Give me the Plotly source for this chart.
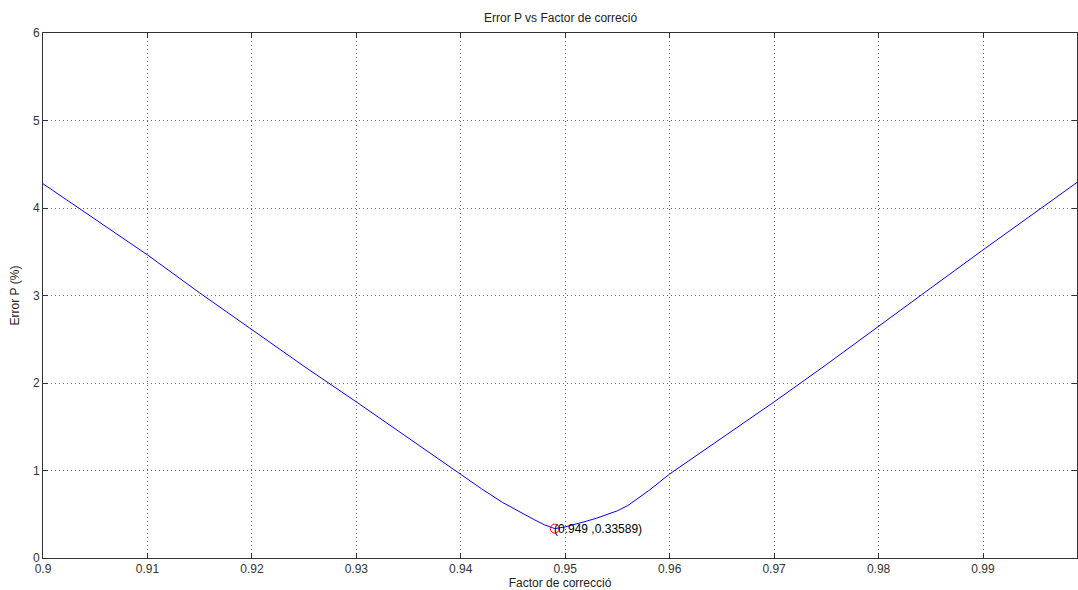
import plotly.graph_objects as go

# Correction factor vs. power error (%)
factor = [0.900, 0.905, 0.910, 0.915, 0.920, 0.925, 0.930, 0.935, 0.940, 0.942,
          0.944, 0.946, 0.947, 0.948, 0.949, 0.950, 0.951, 0.952, 0.953, 0.954,
          0.955, 0.956, 0.957, 0.958, 0.960, 0.965, 0.970, 0.975, 0.980,
          0.985, 0.990, 0.995, 0.999]
error_p = [4.277, 3.870, 3.464, 3.030, 2.605, 2.190, 1.784, 1.370, 0.956, 0.790,
           0.635, 0.500, 0.440, 0.380, 0.33589, 0.355, 0.385, 0.420, 0.455, 0.495,
           0.540, 0.600, 0.680, 0.770, 0.960, 1.370, 1.784, 2.210, 2.651,
           3.085, 3.521, 3.950, 4.292]

# Highlighted minimum
min_x = 0.949
min_y = 0.33589

font_family = "Liberation Sans, Arial, sans-serif"
axis_color = "#333333"

fig = go.Figure()
fig.add_trace(go.Scatter(
    x=factor, y=error_p, mode="lines",
    line=dict(color="#0000ff", width=1),
    hoverinfo="x+y", showlegend=False,
))
fig.add_trace(go.Scatter(
    x=[min_x], y=[min_y], mode="markers",
    marker=dict(symbol="circle-open", size=9, color="#ff0000", line=dict(width=1)),
    showlegend=False,
))
fig.add_annotation(
    x=min_x, y=min_y, text=f"({min_x:g} ,{min_y:g})",
    showarrow=False, xanchor="left", yanchor="middle", xshift=-3,
    font=dict(family=font_family, size=12, color="#000000"),
)

axis_common = dict(
    showline=True, linecolor=axis_color, linewidth=1, mirror="ticks",
    ticks="inside", ticklen=5, tickcolor=axis_color,
    showgrid=True, gridcolor="#666666", gridwidth=1, griddash="1px,3px",
    zeroline=False,
    tickfont=dict(family=font_family, size=12, color=axis_color),
)

fig.update_layout(
    width=1078, height=590,
    margin=dict(l=43, r=1, t=33, b=32),
    paper_bgcolor="white", plot_bgcolor="white",
    title=dict(
        text="Error P vs Factor de correció",
        x=0.52, xanchor="center", y=0.97, yanchor="middle",
        font=dict(family=font_family, size=12, color="#222222"),
    ),
    xaxis=dict(
        range=[0.9, 0.999], tickvals=[0.90, 0.91, 0.92, 0.93, 0.94, 0.95, 0.96, 0.97, 0.98, 0.99],
        ticktext=["0.9", "0.91", "0.92", "0.93", "0.94", "0.95", "0.96", "0.97", "0.98", "0.99"],
        title=dict(text="Factor de correcció", standoff=4,
                   font=dict(family=font_family, size=12, color="#222222")),
        **axis_common,
    ),
    yaxis=dict(
        range=[0, 6], tickvals=[0, 1, 2, 3, 4, 5, 6],
        title=dict(text="Error P (%)", standoff=10,
                   font=dict(family=font_family, size=12, color="#222222")),
        **axis_common,
    ),
)

fig.write_html("out.html")
